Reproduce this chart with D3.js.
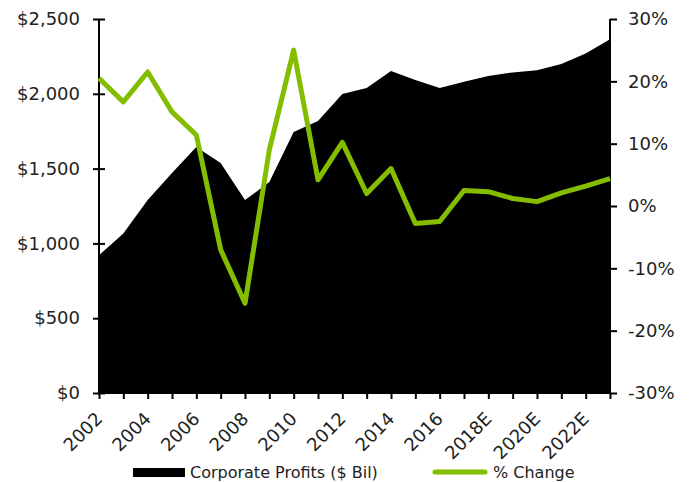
<!DOCTYPE html>
<html><head><meta charset="utf-8">
<script src="https://cdn.jsdelivr.net/npm/d3@7/dist/d3.min.js"></script>
<style>
body{margin:0;background:#fff;}
text{font-family:"DejaVu Sans",Verdana,sans-serif;fill:#222;}
</style></head><body>
<svg id="c" width="697" height="482"></svg>
<script>
const years = ["2002","2003","2004","2005","2006","2007","2008","2009","2010","2011","2012","2013","2014","2015","2016","2017","2018E","2019E","2020E","2021E","2022E","2023E"];
const profits = [921,1066,1290,1470,1644,1537,1290,1410,1745,1818,1998,2039,2152,2092,2039,2081,2119,2143,2157,2199,2270,2364];
const pctChange = [20.5,16.7,21.5,15.1,11.4,-7.0,-15.6,9.0,25.0,4.2,10.2,2.0,6.0,-2.8,-2.5,2.5,2.3,1.2,0.7,2.1,3.2,4.4];
const leftTicks = [0,500,1000,1500,2000,2500];
const rightTicks = [-30,-20,-10,0,10,20,30];
const seriesNames = ["Corporate Profits ($ Bil)","% Change"];
const green = "#84bd00";

const svg = d3.select("#c");
const L = 99, R = 610, T = 19, B = 393;
const x = d3.scalePoint().domain(years).range([L, R]);
const yL = d3.scaleLinear().domain([0,2500]).range([B, T]);
const yR = d3.scaleLinear().domain([-30,30]).range([B, T]);

// area
svg.append("path").datum(profits)
  .attr("d", d3.area().x((d,i)=>x(years[i])).y0(yL(0)).y1(d=>yL(d)))
  .attr("fill","#000");

// left axis
const gl = svg.append("g").attr("transform",`translate(${L},0)`)
  .call(d3.axisLeft(yL).tickValues(leftTicks).tickSize(6).tickPadding(13).tickFormat(d=>"$"+d3.format(",")(d)));
gl.selectAll("line").attr("stroke","#000").attr("stroke-width",2).attr("x2",-6);
gl.selectAll(".tick").append("line").attr("x1",0).attr("x2",6).attr("stroke","#000").attr("stroke-width",2);
gl.select(".domain").attr("d",`M0,${B}V${T}`).attr("stroke","#000").attr("stroke-width",2);
gl.selectAll("text").style("font-size","18px").attr("fill","#222");

// right axis
const gr = svg.append("g").attr("transform",`translate(${R},0)`)
  .call(d3.axisRight(yR).tickValues(rightTicks).tickSize(7).tickPadding(11).tickFormat(d=>d+"%"));
gr.selectAll("line").attr("stroke","#000").attr("stroke-width",2);
gr.select(".domain").attr("d",`M0,${B}V${T}`).attr("stroke","#000").attr("stroke-width",2);
gr.selectAll("text").style("font-size","18px").attr("fill","#222");

// bottom axis
const gb = svg.append("g").attr("transform",`translate(0,${B})`)
  .call(d3.axisBottom(x).tickSize(6).tickFormat(""));
gb.selectAll("line").attr("stroke","#000").attr("stroke-width",2);
gb.select(".domain").attr("d",`M${L},0H${R}`).attr("stroke","#000").attr("stroke-width",2);
gb.selectAll(".tick").filter((d,i)=>i%2===0).append("text")
  .attr("text-anchor","end")
  .attr("transform","translate(4,27) rotate(-45)")
  .style("font-size","18px").attr("fill","#222")
  .text(d=>d);

// line
svg.append("path").datum(pctChange)
  .attr("d", d3.line().x((d,i)=>x(years[i])).y(d=>yR(d)))
  .attr("fill","none").attr("stroke",green).attr("stroke-width",5).attr("stroke-linejoin","round");

// legend
const lg = svg.append("g");
lg.append("rect").attr("x",133).attr("y",468).attr("width",52).attr("height",9).attr("fill","#000");
lg.append("text").attr("x",190).attr("y",477.5).style("font-size","16px").text(seriesNames[0]);
lg.append("line").attr("x1",435).attr("x2",485).attr("y1",472).attr("y2",472)
  .attr("stroke",green).attr("stroke-width",5).attr("stroke-linecap","round");
lg.append("text").attr("x",493).attr("y",477.5).style("font-size","16px").text(seriesNames[1]);
</script>
</body></html>
